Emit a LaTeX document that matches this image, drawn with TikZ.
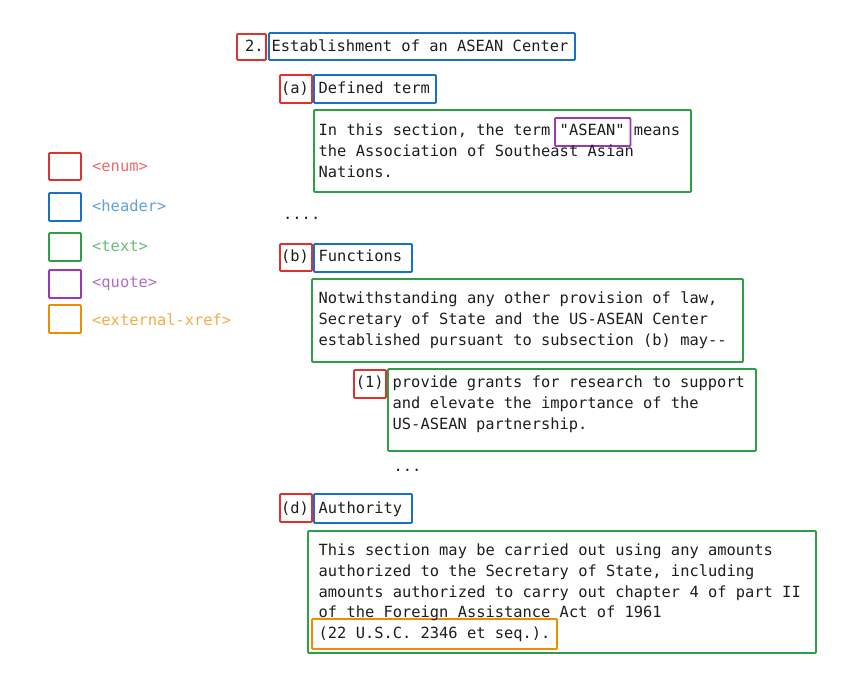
\documentclass[tikz,border=0pt]{standalone}
\usepackage{fontspec}
\setmonofont{DejaVu Sans Mono}
\definecolor{cred}{HTML}{E03131}
\definecolor{cblue}{HTML}{1971C2}
\definecolor{cgreen}{HTML}{2F9E44}
\definecolor{cpurple}{HTML}{9C36B5}
\definecolor{corange}{HTML}{F08C00}
\definecolor{lred}{HTML}{F06B6B}
\definecolor{lblue}{HTML}{5FA2DD}
\definecolor{lgreen}{HTML}{6ABF74}
\definecolor{lpurple}{HTML}{B06FC6}
\definecolor{lorange}{HTML}{F5AC45}
\definecolor{ink}{HTML}{1E1E1E}
\newcommand\bx[6]{\node[box,draw=#2,anchor=north west,minimum width=#5pt-#3pt,minimum height=#6pt-#4pt] (#1) at (#3,#4) {};}
\begin{document}
\begin{tikzpicture}[x=1pt,y=-1pt,
  box/.style={line width=1.9pt,inner sep=0pt,rounded corners=1pt},
  txt/.style={font=\fontsize{15.4}{21}\selectfont\ttfamily,inner sep=0pt,anchor=base west,text=ink}]
\useasboundingbox[fill=white] (0,0) rectangle (848,675);
% legend
\bx{lr}{cred}{48}{152}{80}{179}
\bx{lb}{cblue}{48}{192}{80}{220}
\bx{lg}{cgreen}{48}{232}{80}{260}
\bx{lp}{cpurple}{48}{269}{80}{297}
\bx{lo}{corange}{48}{304}{80}{332}
\node[txt,text=lred] (llr) at (92,171) {<enum>};
\node[txt,text=lblue] (llb) at (92,211) {<header>};
\node[txt,text=lgreen] (llg) at (92,251) {<text>};
\node[txt,text=lpurple] (llp) at (92,287) {<quote>};
\node[txt,text=lorange] (llo) at (92,325) {<external-xref>};
% section 2
\bx{e2}{cred}{236}{33}{265}{59}
\bx{h2}{cblue}{268}{32}{574}{59}
\node[txt] (n2) at (245,51) {2.};
\node[txt] (s2) at (271.5,51) {Establishment of an ASEAN Center};
% (a)
\bx{ea}{cred}{279}{74}{311}{102}
\bx{ha}{cblue}{313}{74}{435}{102}
\node[txt] (na) at (281,93) {(a)};
\node[txt] (sa) at (318.5,93) {Defined term};
\bx{ta}{cgreen}{313}{109}{690}{191}
\bx{qa}{cpurple}{554}{117}{629.5}{145}
\node[txt] (ta1) at (318.5,135) {In this section, the term "ASEAN" means};
\node[txt] (ta2) at (318.5,156) {the Association of Southeast Asian};
\node[txt] (ta3) at (318.5,177) {Nations.};
\node[txt] (dots1) at (283,219) {....};
% (b)
\bx{eb}{cred}{279}{243}{311}{270}
\bx{hb}{cblue}{313}{243}{411}{271}
\node[txt] (nb) at (281,261) {(b)};
\node[txt] (sb) at (318.5,261) {Functions};
\bx{tb}{cgreen}{311}{278}{742}{361}
\node[txt] (tb1) at (318.5,303) {Notwithstanding any other provision of law,};
\node[txt] (tb2) at (318.5,324) {Secretary of State and the US-ASEAN Center};
\node[txt] (tb3) at (318.5,345) {established pursuant to subsection (b) may--};
% (1)
\bx{e1}{cred}{353}{369}{385}{397}
\bx{t1}{cgreen}{387}{368}{755}{450}
\node[txt] (n1) at (355.6,387) {(1)};
\node[txt] (t11) at (392.5,387) {provide grants for research to support};
\node[txt] (t12) at (392.5,408) {and elevate the importance of the};
\node[txt] (t13) at (392.5,429) {US-ASEAN partnership.};
\node[txt] (dots2) at (393.5,471) {...};
% (d)
\bx{ed}{cred}{279}{493}{311}{521}
\bx{hd}{cblue}{313}{493}{411}{522}
\node[txt] (nd) at (281,513) {(d)};
\node[txt] (sd) at (318.5,513) {Authority};
\bx{td}{cgreen}{307}{530}{815}{652}
\bx{xd}{corange}{311}{618}{556}{648}
\node[txt] (td1) at (318.5,555) {This section may be carried out using any amounts};
\node[txt] (td2) at (318.5,576) {authorized to the Secretary of State, including};
\node[txt] (td3) at (318.5,597) {amounts authorized to carry out chapter 4 of part II};
\node[txt] (td4) at (318.5,617.5) {of the Foreign Assistance Act of 1961};
\node[txt] (td5) at (318.5,638) {(22 U.S.C. 2346 et seq.).};
\end{tikzpicture}
\end{document}
